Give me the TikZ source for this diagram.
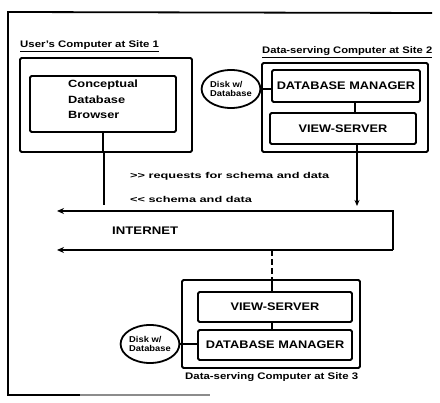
\documentclass[tikz,border=0pt]{standalone}
\usepackage{fontspec}
\setmainfont{Liberation Sans}
\usetikzlibrary{arrows.meta,shapes.geometric}
\newcommand\widetxt[2]{\scalebox{#1}[1]{#2}}
\begin{document}
\begin{tikzpicture}[x=1pt,y=-1pt,
  box/.style={draw, line width=1.8pt, rounded corners=1.5pt, inner sep=0pt},
  wire/.style={line width=1.6pt},
  disk/.style={draw, ellipse, line width=1.8pt, inner sep=0pt, align=left, font=\bfseries\fontsize{8.5}{9}\selectfont},
  lbl/.style={font=\bfseries\fontsize{9.5}{10}\selectfont, inner sep=0pt},
  caps/.style={font=\bfseries\fontsize{11}{12}\selectfont, inner sep=0pt},
  note/.style={font=\bfseries\fontsize{8.5}{9}\selectfont, inner sep=0pt, anchor=west}]
\useasboundingbox (0,0) rectangle (440,403);
% outer frame
\draw[line width=1.8pt] (432,13) -- (8,12) -- (8,395) -- (80,395);
\draw[line width=1.2pt, black!45] (80,395) -- (210,395);
% site 1
\node[box, minimum width=172pt, minimum height=94pt] (site1) at (106,105) {};
\node[box, minimum width=146pt, minimum height=56pt] (browser) at (103,104) {};
\node[font=\bfseries\fontsize{10.5}{15.5}\selectfont, align=left, anchor=north west, inner sep=0pt] (btext) at (68,80) {\widetxt{1.22}{Conceptual}\\\widetxt{1.22}{Database}\\\widetxt{1.22}{Browser}};
\node[lbl, anchor=south west] (l1) at (20,52) {\widetxt{1.2}{\underline{User's Computer at Site 1}}};
\draw[wire] (browser.south) -- (browser.south |- site1.south);
\coordinate (a1) at (104,205);
\draw[wire] (104,152) -- (a1);
% site 2
\node[box, minimum width=166pt, minimum height=89pt] (site2) at (345,107.5) {};
\node[box, minimum width=148pt, minimum height=32pt, caps] (db2) at (346,86) {\widetxt{1.16}{DATABASE MANAGER}};
\node[box, minimum width=146pt, minimum height=31pt, caps] (vs2) at (343,128.5) {\widetxt{1.16}{VIEW-SERVER}};
\node[lbl, anchor=south west] (l2) at (262,58) {\widetxt{1.18}{\underline{Data-serving Computer at Site 2}}};
\node[disk, minimum width=54pt, minimum height=38pt] (disk2) at (231,89) {\widetxt{1.1}{Disk w/}\\\widetxt{1.1}{Database}};
\draw[wire] (disk2.east) -- (db2.west |- disk2.east);
\draw[wire] (355,102) -- (355,113);
\coordinate (a2) at (357,206);
\draw[wire, -{Stealth[length=6pt,width=5pt]}] (357,144) -- (a2);
% notes
\node[note] (n1) at (130,176) {\widetxt{1.5}{>{}> requests for schema and data}};
\node[note] (n2) at (130,199) {\widetxt{1.5}{<{}< schema and data}};
% internet
\coordinate (itl) at (57,211);
\coordinate (itr) at (393,211);
\coordinate (ibr) at (393,250);
\coordinate (ibl) at (57,250);
\draw[line width=1.8pt, -{Stealth[length=7pt,width=6pt]}] (ibr) -- (itr) -- (itl);
\draw[line width=1.8pt, -{Stealth[length=7pt,width=6pt]}] (ibr) -- (ibl);
\node[caps, anchor=west] (inet) at (112,231) {\widetxt{1.2}{INTERNET}};
% site 3
\node[box, minimum width=178pt, minimum height=88pt] (site3) at (271,324) {};
\node[box, minimum width=154pt, minimum height=30pt, caps] (vs3) at (275,307) {\widetxt{1.16}{VIEW-SERVER}};
\node[box, minimum width=154pt, minimum height=30pt, caps] (db3) at (275,345) {\widetxt{1.16}{DATABASE MANAGER}};
\node[lbl, anchor=north west] (l3) at (185,372) {\widetxt{1.2}{Data-serving Computer at Site 3}};
\node[disk, minimum width=54pt, minimum height=38pt] (disk3) at (150,344) {\widetxt{1.1}{Disk w/}\\\widetxt{1.1}{Database}};
\draw[wire] (disk3.east) -- (db3.west |- disk3.east);
\draw[wire] (272,322) -- (272,330);
\draw[wire, dashed, dash pattern=on 6pt off 3pt] (272,250) -- (272,280);
\draw[wire] (272,280) -- (272,292);
\end{tikzpicture}
\end{document}
